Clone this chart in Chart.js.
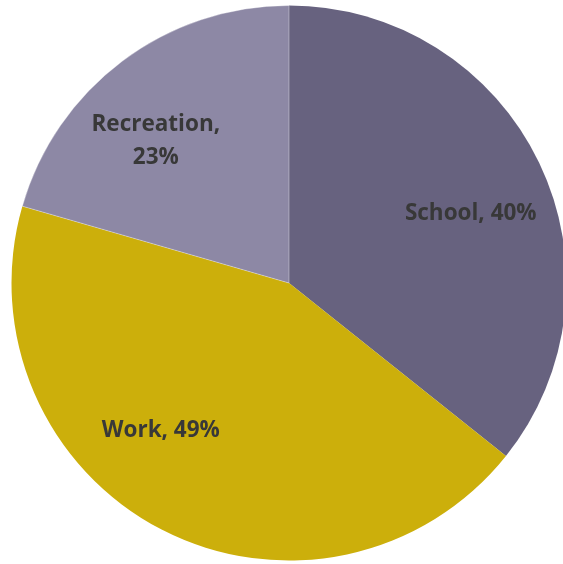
<!DOCTYPE html>
<html>
<head>
<meta charset="utf-8">
<script src="https://cdn.jsdelivr.net/npm/chart.js@4/dist/chart.umd.min.js"></script>
<style>
  html, body { margin: 0; padding: 0; background: #fff; overflow: hidden; }
  #wrap { position: absolute; left: 0; top: 0; width: 578px; height: 566px; }
</style>
</head>
<body>
<div id="wrap"><canvas id="pie" width="578" height="566"></canvas></div>
<script>
const CATEGORIES = ["School", "Work", "Recreation"];
const VALUES = [40, 49, 23];
const COLORS = ["#67627f", "#ccaf0b", "#8d88a5"];

// label anchor, as a fraction of the pie radius from its centre
const LABEL_POS = [
  [0.655, -0.249],
  [-0.462, 0.532],
  [-0.480, -0.512]
];
// where a label is split onto two lines
const LABEL_WRAP = [false, false, true];

const sliceLabels = {
  id: "sliceLabels",
  afterDatasetsDraw(chart) {
    const ctx = chart.ctx;
    const arcs = chart.getDatasetMeta(0).data;
    ctx.save();
    ctx.font = "bold 22.5px 'Open Sans', sans-serif";
    ctx.fillStyle = "#383838";
    ctx.textAlign = "center";
    ctx.textBaseline = "middle";
    arcs.forEach((arc, i) => {
      const r = arc.outerRadius;
      const x = arc.x + LABEL_POS[i][0] * r;
      const y = arc.y + LABEL_POS[i][1] * r;
      const name = CATEGORIES[i] + ",";
      const pct = VALUES[i] + "%";
      if (LABEL_WRAP[i]) {
        ctx.fillText(name, x, y - 16);
        ctx.fillText(pct, x, y + 17);
      } else {
        ctx.fillText(name + " " + pct, x, y);
      }
    });
    ctx.restore();
  }
};

new Chart(document.getElementById("pie").getContext("2d"), {
  type: "pie",
  data: {
    labels: CATEGORIES,
    datasets: [{
      data: VALUES,
      backgroundColor: COLORS,
      borderColor: "rgba(255,255,255,0.35)",
      borderWidth: [0, 0, 1]
    }]
  },
  options: {
    responsive: false,
    animation: false,
    layout: { padding: { left: 11, top: 5, right: 11, bottom: 5 } },
    plugins: {
      legend: { display: false },
      tooltip: { enabled: false }
    }
  },
  plugins: [sliceLabels]
});
</script>
</body>
</html>
